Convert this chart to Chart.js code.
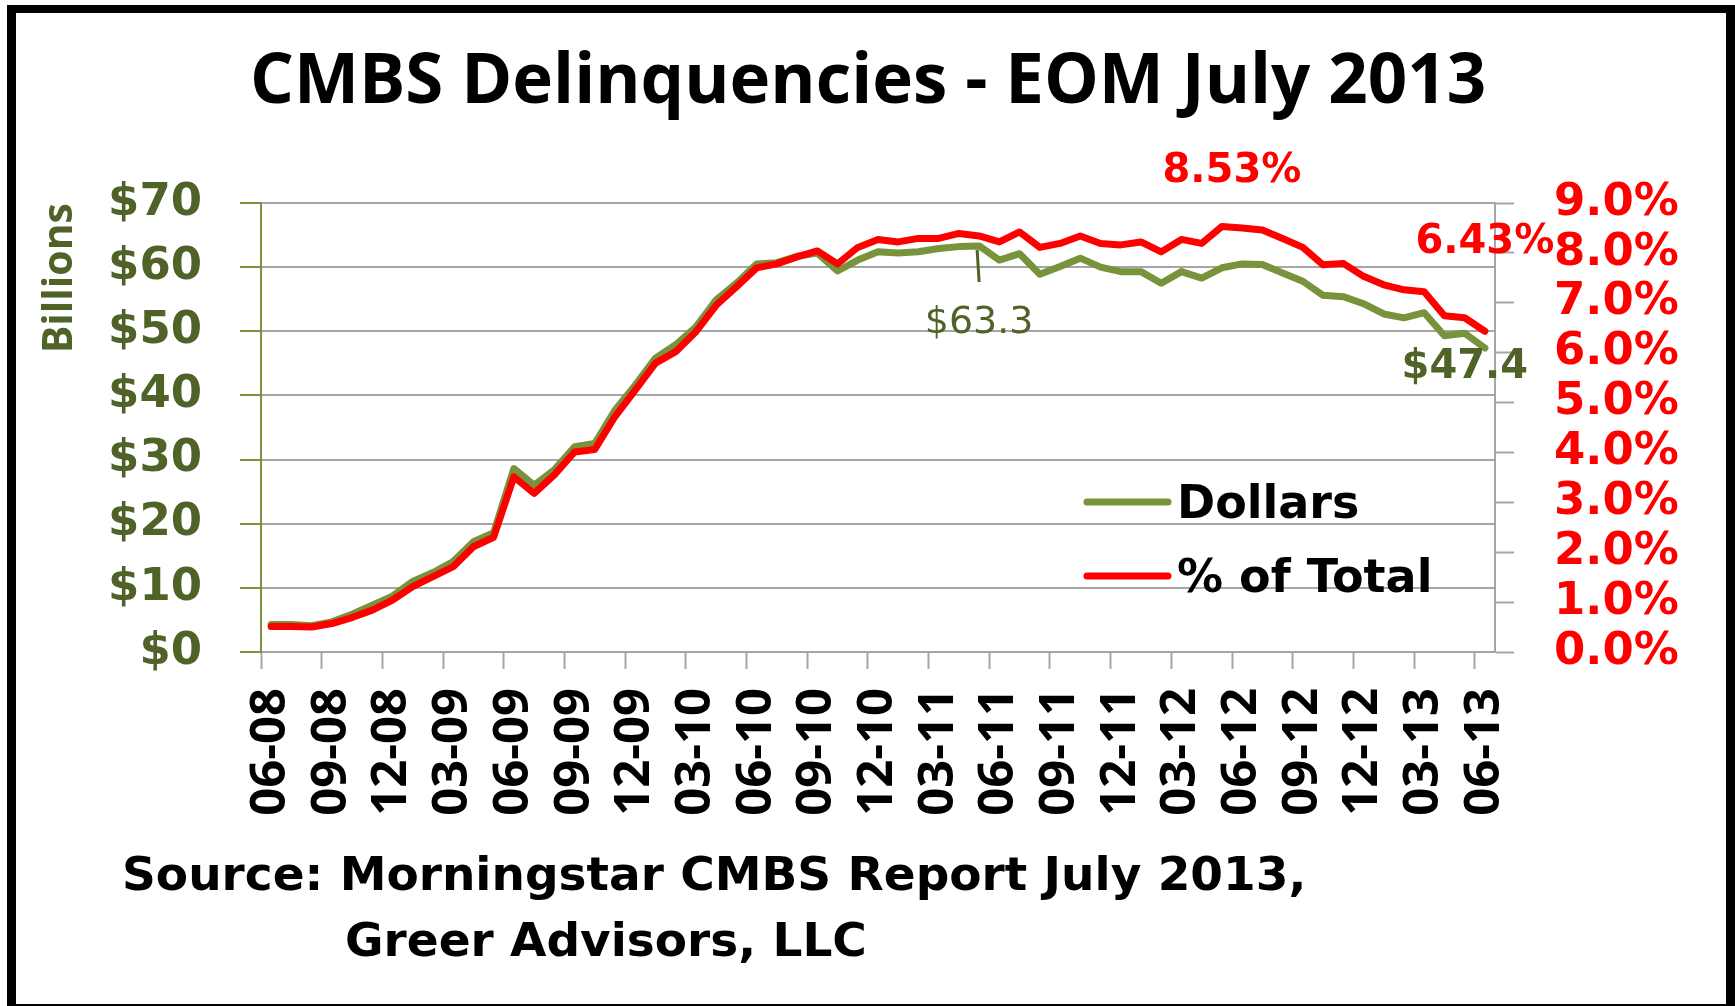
<!DOCTYPE html>
<html>
<head>
<meta charset="utf-8">
<script src="https://cdn.jsdelivr.net/npm/chart.js@4.4.1/dist/chart.umd.min.js"></script>
<style>
  html, body { margin: 0; padding: 0; background: #fff; overflow: hidden; }
  #wrap { position: relative; width: 1735px; height: 1006px; }
  #frame { position: absolute; left: 7px; top: 5px; width: 1710px; height: 991px;
           border-left: 9px solid #000; border-top: 8px solid #000; border-right: 9px solid #000;
           border-bottom: 2px solid #000; pointer-events: none; }
</style>
</head>
<body>
<div id="wrap">
  <canvas id="c" width="1735" height="1006"></canvas>
  <div id="frame"></div>
</div>
<script>
const titleText = 'CMBS Delinquencies - EOM July 2013';
const sourceLines = ['Source: Morningstar CMBS Report July 2013,', 'Greer Advisors, LLC'];
const seriesNames = ['Dollars', '% of Total'];
const axisTitle = 'Billions';

const months = [
  '06-08','07-08','08-08','09-08','10-08','11-08','12-08',
  '01-09','02-09','03-09','04-09','05-09','06-09','07-09','08-09','09-09','10-09','11-09','12-09',
  '01-10','02-10','03-10','04-10','05-10','06-10','07-10','08-10','09-10','10-10','11-10','12-10',
  '01-11','02-11','03-11','04-11','05-11','06-11','07-11','08-11','09-11','10-11','11-11','12-11',
  '01-12','02-12','03-12','04-12','05-12','06-12','07-12','08-12','09-12','10-12','11-12','12-12',
  '01-13','02-13','03-13','04-13','05-13','06-13'
];

// Delinquent balance, $ billions
const dollars = [
  4.3, 4.3, 4.1, 4.7, 5.9, 7.3, 8.7,
  11.0, 12.4, 14.1, 17.2, 18.6, 28.6, 26.0, 28.4, 32.0, 32.5, 37.7, 41.6,
  45.8, 47.9, 50.7, 54.9, 57.5, 60.5, 60.7, 61.7, 62.2, 59.4, 61.1, 62.4,
  62.2, 62.4, 62.9, 63.2, 63.3, 61.1, 62.1, 58.9, 60.1, 61.4, 60.0, 59.3,
  59.3, 57.5, 59.3, 58.3, 59.9, 60.5, 60.4, 59.1, 57.8, 55.6, 55.4, 54.3,
  52.7, 52.1, 52.9, 49.3, 49.7, 47.4
];

// Delinquency rate, % of total
const pctTotal = [
  0.51, 0.51, 0.50, 0.57, 0.69, 0.84, 1.04,
  1.31, 1.51, 1.71, 2.11, 2.30, 3.51, 3.18, 3.55, 4.01, 4.06, 4.72, 5.25,
  5.79, 6.02, 6.42, 6.95, 7.32, 7.70, 7.78, 7.92, 8.04, 7.78, 8.11, 8.27,
  8.22, 8.29, 8.29, 8.39, 8.34, 8.22, 8.42, 8.11, 8.19, 8.34, 8.19, 8.16,
  8.22, 8.02, 8.27, 8.19, 8.53, 8.50, 8.46, 8.29, 8.11, 7.76, 7.79, 7.53,
  7.36, 7.26, 7.22, 6.74, 6.70, 6.43
];

const GREEN = '#77933C';
const DARKGREEN = '#4F6228';
const RED = '#FF0000';
const GRID = '#A6A6A6';

const extras = {
  id: 'extras',
  afterDraw(chart) {
    const ctx = chart.ctx;
    const xs = chart.scales.x, yl = chart.scales.y, yr = chart.scales.y2;
    ctx.save();
    // Title
    ctx.fillStyle = '#000';
    ctx.textBaseline = 'alphabetic';
    ctx.textAlign = 'center';
    ctx.font = 'bold 69px "Open Sans"';
    ctx.fillText(titleText, 868, 103);
    // Source
    ctx.textAlign = 'left';
    ctx.font = 'bold 47px "DejaVu Sans"';
    ctx.fillText(sourceLines[0], 122, 890);
    ctx.fillText(sourceLines[1], 345, 956);
    // Legend
    const legendColors = [GREEN, RED];
    const legendY = [502, 576];
    ctx.font = 'bold 46px "DejaVu Sans"';
    ctx.lineCap = 'round';
    for (let k = 0; k < 2; k++) {
      ctx.strokeStyle = legendColors[k];
      ctx.lineWidth = 7;
      ctx.beginPath();
      ctx.moveTo(1087, legendY[k]);
      ctx.lineTo(1168, legendY[k]);
      ctx.stroke();
      ctx.fillStyle = '#000';
      ctx.fillText(seriesNames[k], 1177, legendY[k] + 16);
    }
    // Data labels
    const maxPctIdx = pctTotal.indexOf(Math.max(...pctTotal));
    const lastIdx = months.length - 1;
    const maxDolIdx = dollars.indexOf(Math.max(...dollars));
    ctx.textAlign = 'center';
    ctx.font = 'bold 40px "DejaVu Sans"';
    ctx.fillStyle = RED;
    let px = xs.getPixelForValue(maxPctIdx), py = yr.getPixelForValue(pctTotal[maxPctIdx]);
    ctx.fillText(pctTotal[maxPctIdx].toFixed(2) + '%', px + 10, py - 44);
    px = xs.getPixelForValue(lastIdx); py = yr.getPixelForValue(pctTotal[lastIdx]);
    ctx.fillText(pctTotal[lastIdx].toFixed(2) + '%', px, py - 78);
    ctx.fillStyle = DARKGREEN;
    px = xs.getPixelForValue(lastIdx); py = yl.getPixelForValue(dollars[lastIdx]);
    ctx.fillText('$' + dollars[lastIdx].toFixed(1), px - 20, py + 30);
    px = xs.getPixelForValue(maxDolIdx); py = yl.getPixelForValue(dollars[maxDolIdx]);
    ctx.font = '500 38px "DejaVu Sans"';
    ctx.fillText('$' + dollars[maxDolIdx].toFixed(1), px, py + 87);
    ctx.strokeStyle = DARKGREEN;
    ctx.lineWidth = 3;
    ctx.lineCap = 'butt';
    ctx.beginPath();
    ctx.moveTo(px - 2, py + 4);
    ctx.lineTo(px, py + 36);
    ctx.stroke();
    ctx.restore();
  }
};

new Chart(document.getElementById('c'), {
  type: 'line',
  data: {
    labels: months,
    datasets: [
      { label: seriesNames[0], data: dollars, yAxisID: 'y', order: 1,
        borderColor: GREEN, backgroundColor: GREEN, borderWidth: 7,
        pointRadius: 0, tension: 0, borderJoinStyle: 'round', borderCapStyle: 'round' },
      { label: seriesNames[1], data: pctTotal, yAxisID: 'y2', order: 0,
        borderColor: RED, backgroundColor: RED, borderWidth: 7,
        pointRadius: 0, tension: 0, borderJoinStyle: 'round', borderCapStyle: 'round' }
    ]
  },
  options: {
    responsive: false,
    animation: false,
    layout: { padding: { left: 0, right: 0, top: 203, bottom: 0 } },
    plugins: { legend: { display: false }, tooltip: { enabled: false }, title: { display: false } },
    scales: {
      x: {
        type: 'category',
        offset: true,
        afterFit: (s) => { s.height = 354; },
        grid: {
          offset: true, drawOnChartArea: false, drawTicks: true, tickLength: 17, tickWidth: 2,
          tickColor: (c) => (c.type === 'tick' && c.index % 3 === 0) ? GRID : 'rgba(0,0,0,0)'
        },
        border: { color: GRID, width: 2 },
        ticks: {
          autoSkip: false, maxRotation: 90, minRotation: 90, padding: 19, color: '#000',
          font: { family: 'Open Sans', size: 49, weight: 'bold' },
          callback: function (v, i) { return i % 3 === 0 ? this.getLabelForValue(v) : ''; }
        }
      },
      y: {
        position: 'left', min: 0, max: 70,
        afterFit: (s) => { s.width = 261; },
        grid: { color: GRID, lineWidth: 2, tickColor: GREEN, tickLength: 21, tickWidth: 2 },
        border: { color: GREEN, width: 2 },
        ticks: { stepSize: 10, autoSkip: false, padding: 38, color: DARKGREEN,
                 font: { family: 'DejaVu Sans', size: 45, weight: 'bold' },
                 callback: (v) => '$' + v },
        title: { display: true, text: axisTitle, align: 'end', color: DARKGREEN,
                 font: { family: 'Open Sans', size: 41, weight: 'bold' }, padding: { top: 36, bottom: 0 } }
      },
      y2: {
        position: 'right', min: 0, max: 9,
        afterFit: (s) => { s.width = 240; },
        grid: { drawOnChartArea: false, tickColor: GRID, tickLength: 19, tickWidth: 2 },
        border: { color: GRID, width: 2 },
        ticks: { stepSize: 1, autoSkip: false, padding: 40, color: RED,
                 font: { family: 'DejaVu Sans', size: 45, weight: 'bold' },
                 callback: (v) => v.toFixed(1) + '%' }
      }
    }
  },
  plugins: [extras]
});
</script>
</body>
</html>
